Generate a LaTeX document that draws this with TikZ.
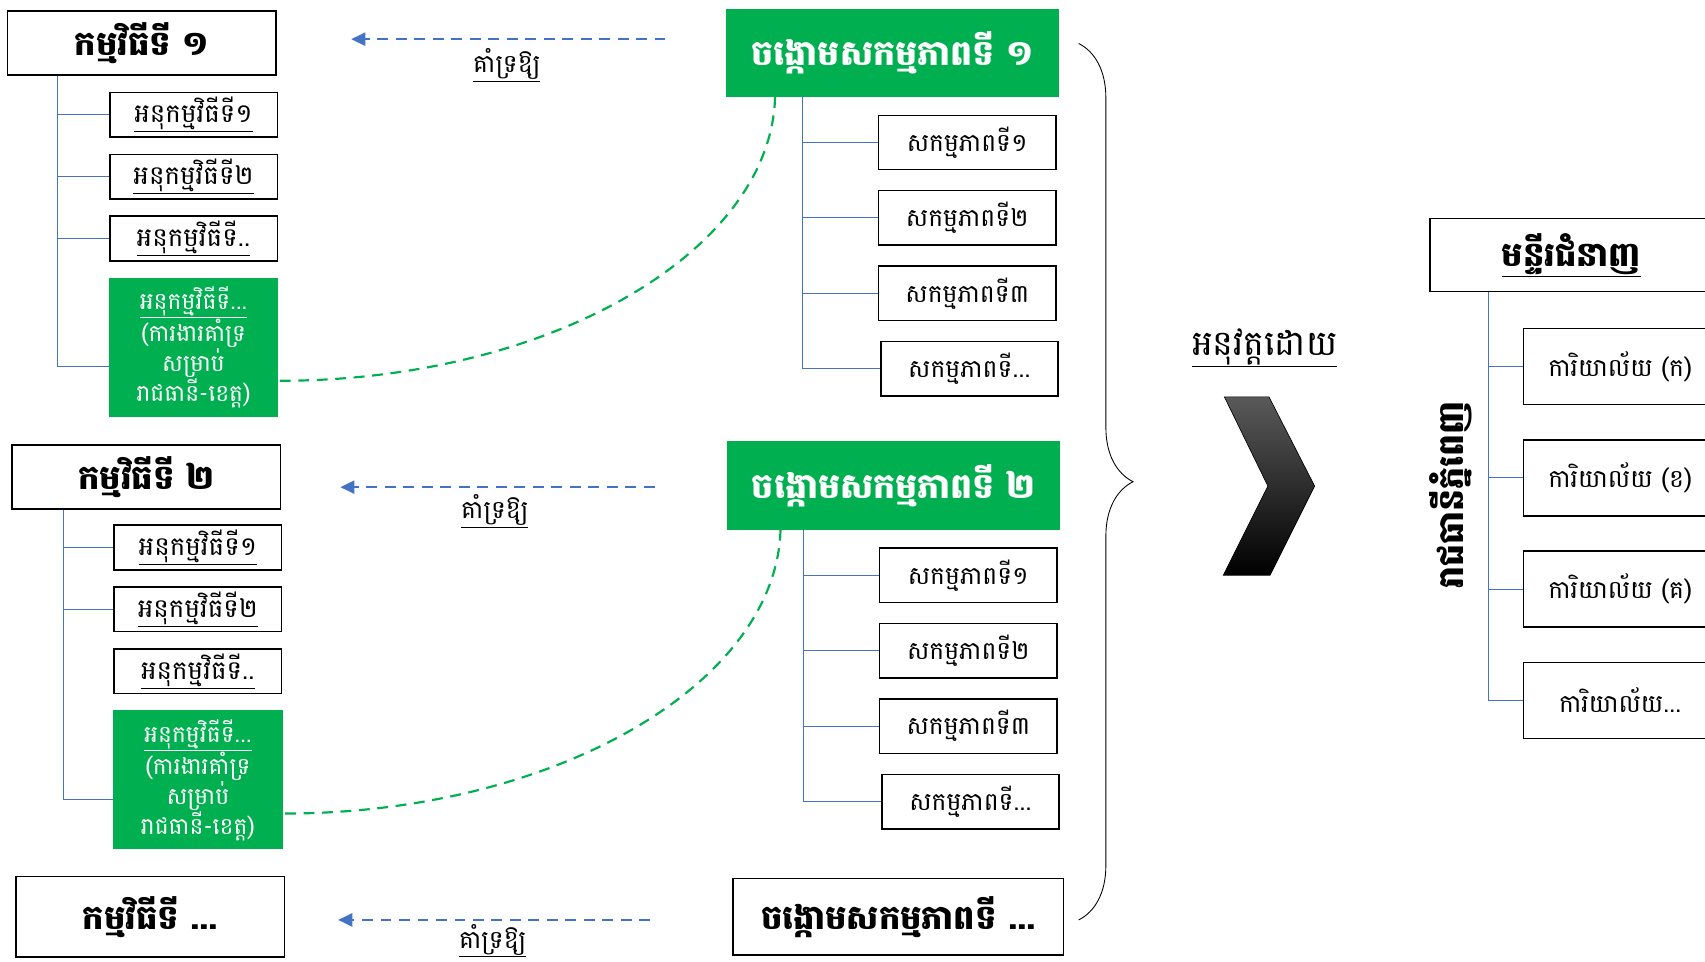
\documentclass[tikz,border=0pt]{standalone}
\usepackage{fontspec}
\newfontfamily\khmer[Script=Khmer]{Battambang}
\usetikzlibrary{positioning, arrows.meta, decorations.pathreplacing}
\definecolor{officegreen}{HTML}{00B050}
\definecolor{officeblue}{HTML}{4472C4}

\begin{document}
\begin{tikzpicture}[x=1pt, y=-1pt,
            progbox/.style={draw, line width=1.5pt, fill=white, inner sep=1pt, minimum width=247pt, minimum height=59pt, font=\khmer\bfseries\fontsize{31}{35}\selectfont},
            subbox/.style={draw, line width=1.4pt, inner sep=1pt, minimum width=154pt, minimum height=41pt, font=\khmer\fontsize{24}{26}\selectfont},
            supbox/.style={fill=officegreen, text=white, inner sep=1pt, minimum width=156pt, minimum height=128pt, align=center, font=\khmer\fontsize{21.5}{24.5}\selectfont},
            clusterbox/.style={fill=officegreen, text=white, minimum width=306pt, minimum height=81pt, font=\khmer\bfseries\fontsize{32}{36}\selectfont},
            actbox/.style={draw, line width=1.4pt, inner sep=1pt, minimum width=163pt, minimum height=50pt, font=\khmer\fontsize{23}{26}\selectfont},
            officebox/.style={draw, line width=1.4pt, minimum width=178pt, minimum height=70pt, font=\khmer\fontsize{23}{26}\selectfont},
            treeline/.style={officeblue, line width=0.8pt},
            supportarrow/.style={officeblue, line width=2.2pt, dash pattern=on 10pt off 7pt, -{Triangle[length=13pt,width=12pt]}},
            linkcurve/.style={officegreen, line width=2pt, dash pattern=on 10pt off 7pt},
            arrowlabel/.style={font=\khmer\fontsize{23}{26}\selectfont}]
            \useasboundingbox (0,0) rectangle (1568,884);
            % programmes on the left
            \node[progbox] (k1) at (130.5,39.5) {កម្មវិធីទី ១};
            \node[subbox] (p11) at (178,105.5) {\underline{អនុកម្មវិធីទី១}};
            \node[subbox, below=14.5pt of p11] (p12) {\underline{អនុកម្មវិធីទី២}};
            \node[subbox, below=14.5pt of p12] (p13) {\underline{អនុកម្មវិធីទី..}};
            \node[supbox, below=14.5pt of p13] (g1) {\underline{អនុកម្មវិធីទី...}\\(ការងារគាំទ្រ\\សម្រាប់\\រាជធានី-ខេត្ត)};
            \node[progbox] (k2) at (134.5,438.5) {កម្មវិធីទី ២};
            \node[subbox] (p21) at (182,503.5) {\underline{អនុកម្មវិធីទី១}};
            \node[subbox, below=14.5pt of p21] (p22) {\underline{អនុកម្មវិធីទី២}};
            \node[subbox, below=14.5pt of p22] (p23) {\underline{អនុកម្មវិធីទី..}};
            \node[supbox, below=14.5pt of p23] (g2) {\underline{អនុកម្មវិធីទី...}\\(ការងារគាំទ្រ\\សម្រាប់\\រាជធានី-ខេត្ត)};
            \node[progbox, minimum height=74pt] (k3) at (138,843) {កម្មវិធីទី ...};
            \draw[treeline] ([xshift=47pt]k1.south west) |- (p11);
            \draw[treeline] ([xshift=47pt]k1.south west) |- (p12);
            \draw[treeline] ([xshift=47pt]k1.south west) |- (p13);
            \draw[treeline] ([xshift=47pt]k1.south west) |- ([yshift=-18pt]g1.west);
            \draw[treeline] ([xshift=48pt]k2.south west) |- (p21);
            \draw[treeline] ([xshift=48pt]k2.south west) |- (p22);
            \draw[treeline] ([xshift=48pt]k2.south west) |- ([yshift=-18pt]g2.west);
            % activity clusters in the middle
            \node[clusterbox] (c1) at (821,48.5) {ចង្កោមសកម្មភាពទី ១};
            \node[actbox] (s11) at (889.5,131) {សកម្មភាពទី១};
            \node[actbox, below=18pt of s11] (s12) {សកម្មភាពទី២};
            \node[actbox, below=18pt of s12] (s13) {សកម្មភាពទី៣};
            \node[actbox, below=18pt of s13, xshift=2pt] (s14) {សកម្មភាពទី...};
            \node[clusterbox] (c2) at (822,446.5) {ចង្កោមសកម្មភាពទី ២};
            \node[actbox] (s21) at (890.5,529) {សកម្មភាពទី១};
            \node[actbox, below=18pt of s21] (s22) {សកម្មភាពទី២};
            \node[actbox, below=18pt of s22] (s23) {សកម្មភាពទី៣};
            \node[actbox, below=18pt of s23, xshift=2pt] (s24) {សកម្មភាពទី...};
            \node[progbox, minimum width=304pt, minimum height=70pt, font=\khmer\bfseries\fontsize{31}{35}\selectfont] (c3) at (826,843) {ចង្កោមសកម្មភាពទី ...};
            \draw[treeline] ([xshift=70pt]c1.south west) |- (s11);
            \draw[treeline] ([xshift=70pt]c1.south west) |- (s12);
            \draw[treeline] ([xshift=70pt]c1.south west) |- (s13);
            \draw[treeline] ([xshift=70pt]c1.south west) |- (s14);
            \draw[treeline] ([xshift=70pt]c2.south west) |- (s21);
            \draw[treeline] ([xshift=70pt]c2.south west) |- (s22);
            \draw[treeline] ([xshift=70pt]c2.south west) |- (s23);
            \draw[treeline] ([xshift=70pt]c2.south west) |- (s24);
            \draw[linkcurve] ([xshift=45pt]c1.south west) .. controls +(-4,142) and +(250,0) .. ([yshift=-31pt]g1.east);
            \draw[linkcurve] ([xshift=49pt]c2.south west) .. controls +(-4,142) and +(250,0) .. ([yshift=-31pt]g2.east);
            % support arrows
            \coordinate (a1s) at (612,36);
            \coordinate (a1e) at (323,36);
            \coordinate (a2s) at (602,448);
            \coordinate (a2e) at (313,448);
            \coordinate (a3s) at (598,846);
            \coordinate (a3e) at (311,846);
            \draw[supportarrow] (a1s) -- (a1e);
            \draw[supportarrow] (a2s) -- (a2e);
            \draw[supportarrow] (a3s) -- (a3e);
            \node[arrowlabel] (l1) at (466,60) {\underline{គាំទ្រឱ្យ}};
            \node[arrowlabel] (l2) at (455,470) {\underline{គាំទ្រឱ្យ}};
            \node[arrowlabel] (l3) at (453,865) {\underline{គាំទ្រឱ្យ}};
            % brace and chevron
            \coordinate (bt) at (992,40);
            \coordinate (bb) at (992,846);
            \draw[decorate, decoration={brace, amplitude=50pt}, line width=0.8pt] (bt) -- (bb);
            \node[font=\khmer\fontsize{32}{36}\selectfont] (impl) at (1163,320) {\underline{អនុវត្តដោយ}};
            \shade[top color=black!65, middle color=black, bottom color=black, draw=black, line width=0.6pt]
                (1126,365) -- (1167,365) -- (1209,447) -- (1168,529) -- (1125,529) -- (1166,447) -- cycle;
            % department on the right
            \node[progbox, minimum width=260pt, minimum height=67pt, font=\khmer\bfseries\fontsize{31}{35}\selectfont] (dept) at (1445,234.5) {\underline{មន្ទីរជំនាញ}};
            \node[officebox] (o1) at (1490,337) {ការិយាល័យ (ក)};
            \node[officebox, below=31pt of o1] (o2) {ការិយាល័យ (ខ)};
            \node[officebox, below=31pt of o2] (o3) {ការិយាល័យ (គ)};
            \node[officebox, below=31pt of o3] (o4) {ការិយាល័យ...};
            \draw[treeline] ([xshift=55pt]dept.south west) |- (o1);
            \draw[treeline] ([xshift=55pt]dept.south west) |- (o2);
            \draw[treeline] ([xshift=55pt]dept.south west) |- (o3);
            \draw[treeline] ([xshift=55pt]dept.south west) |- (o4);
            \node[rotate=90, inner sep=0pt, font=\khmer\bfseries\fontsize{32}{36}\selectfont] (capital) at (1334,455) {រាជធានីភ្នំពេញ};
        \end{tikzpicture}
\end{document}
